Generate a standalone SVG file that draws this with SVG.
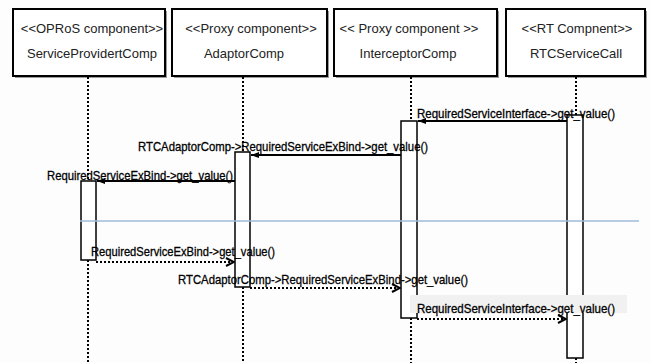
<svg xmlns="http://www.w3.org/2000/svg" width="651" height="363" viewBox="0 0 651 363">
<style>
.box{fill:#fff;stroke:#000;stroke-width:2}
.shadow{fill:#9a9a9a}
.title{font-family:"Liberation Sans",Arial,sans-serif;font-size:13px;fill:#222;text-anchor:middle}
.life{stroke:#000;stroke-width:2;stroke-dasharray:2 2;fill:none}
.act{fill:#fff;stroke:#000;stroke-width:1.5}
.msg{stroke:#000;stroke-width:2;fill:none}
.ret{stroke:#000;stroke-width:2;stroke-dasharray:2 2;fill:none}
.lbl{font-family:"Liberation Sans",Arial,sans-serif;font-size:13px;fill:#000;stroke:#000;stroke-width:0.3}
</style>
<defs>
<marker id="sync" viewBox="0 0 8 8" refX="8" refY="4" markerWidth="8" markerHeight="8" markerUnits="userSpaceOnUse" orient="auto">
<path d="M0,1 L8,4 L0,7 z" fill="#000"/>
</marker>
<marker id="open" viewBox="0 0 10 10" refX="9" refY="5" markerWidth="10" markerHeight="10" markerUnits="userSpaceOnUse" orient="auto">
<path d="M1,1 L9,5 L1,9" fill="none" stroke="#000" stroke-width="2"/>
</marker>
</defs>
<rect width="651" height="363" fill="#fdfdfd"/>

<g id="node-serviceprovider">
<rect class="shadow" x="15" y="11" width="152" height="67"/>
<rect class="box" x="13" y="9" width="152" height="67"/>
<text class="title" x="92" y="33">&lt;&lt;OPRoS component&gt;&gt;</text>
<text class="title" x="92" y="58">ServiceProvidertComp</text>
</g>
<g id="node-adaptor">
<rect class="shadow" x="174" y="11" width="155" height="67"/>
<rect class="box" x="172" y="9" width="155" height="67"/>
<text class="title" x="251" y="33">&lt;&lt;Proxy component&gt;&gt;</text>
<text class="title" x="244" y="58">AdaptorComp</text>
</g>
<g id="node-interceptor">
<rect class="shadow" x="336" y="11" width="163" height="67"/>
<rect class="box" x="334" y="9" width="163" height="67"/>
<text class="title" x="409" y="33">&lt;&lt; Proxy component &gt;&gt;</text>
<text class="title" x="408" y="58">InterceptorComp</text>
</g>
<g id="node-rtcservicecall">
<rect class="shadow" x="508" y="11" width="139" height="67"/>
<rect class="box" x="506" y="9" width="139" height="67"/>
<text class="title" x="577" y="33">&lt;&lt;RT Compnent&gt;&gt;</text>
<text class="title" x="576" y="58">RTCServiceCall</text>
</g>

<g id="lifelines">
<line class="life" x1="88" y1="77" x2="88" y2="181"/>
<line class="life" x1="88" y1="260" x2="88" y2="363"/>
<line class="life" x1="243" y1="77" x2="243" y2="152"/>
<line class="life" x1="243" y1="287" x2="243" y2="363"/>
<line class="life" x1="411" y1="77" x2="411" y2="121"/>
<line class="life" x1="411" y1="318" x2="411" y2="363"/>
<line class="life" x1="576" y1="77" x2="576" y2="115"/>
<line class="life" x1="576" y1="358" x2="576" y2="363"/>
</g>

<g id="activations">
<rect class="act" x="81" y="181" width="15" height="79"/>
<rect class="act" x="235" y="152" width="15" height="135"/>
<rect class="act" x="401" y="121" width="16" height="197"/>
<rect class="act" x="567" y="115" width="16" height="243"/>
</g>

<line id="separator" x1="80" y1="221" x2="639" y2="221" stroke="#9fbadb" stroke-width="1.5"/>

<rect id="highlight" x="410" y="295" width="217" height="18" fill="#f1f1f1"/>

<g id="connectors">
<line class="msg" x1="567" y1="121" x2="418" y2="121" marker-end="url(#sync)"/>
<line class="msg" x1="401" y1="155" x2="251" y2="155" marker-end="url(#sync)"/>
<line class="msg" x1="235" y1="181" x2="97" y2="181" marker-end="url(#sync)"/>
<line class="ret" x1="96" y1="262" x2="234" y2="262" marker-end="url(#open)"/>
<line class="ret" x1="250" y1="288" x2="400" y2="288" marker-end="url(#open)"/>
<line class="ret" x1="417" y1="319" x2="566" y2="319" marker-end="url(#open)"/>
<text class="lbl" x="417" y="118" textLength="198" lengthAdjust="spacingAndGlyphs">RequiredServiceInterface-&gt;get_value()</text>
<text class="lbl" x="138" y="151" textLength="290" lengthAdjust="spacingAndGlyphs">RTCAdaptorComp-&gt;RequiredServiceExBind-&gt;get_value()</text>
<text class="lbl" x="47" y="180" textLength="186" lengthAdjust="spacingAndGlyphs">RequiredServiceExBind-&gt;get_value()</text>
<text class="lbl" x="91" y="256" textLength="184" lengthAdjust="spacingAndGlyphs">RequiredServiceExBind-&gt;get_value()</text>
<text class="lbl" x="178" y="284" textLength="290" lengthAdjust="spacingAndGlyphs">RTCAdaptorComp-&gt;RequiredServiceExBind-&gt;get_value()</text>
<text class="lbl" x="417" y="313" textLength="198" lengthAdjust="spacingAndGlyphs">RequiredServiceInterface-&gt;get_value()</text>
</g>
</svg>
